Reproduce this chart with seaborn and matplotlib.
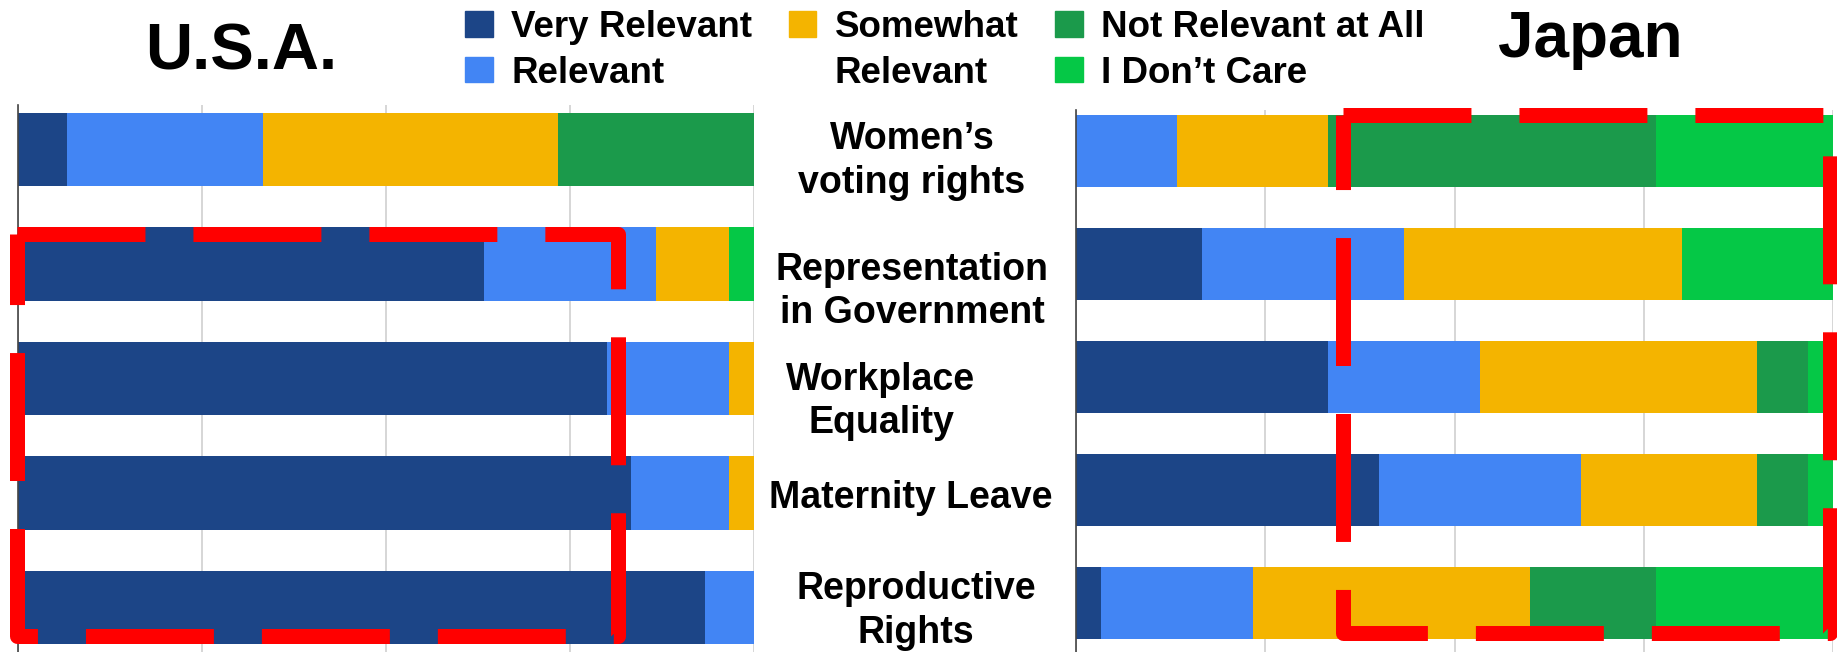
import matplotlib
matplotlib.use("Agg")
import matplotlib.pyplot as plt
import seaborn as sns
import pandas as pd
from matplotlib.patches import Patch, Rectangle
from matplotlib.transforms import blended_transform_factory

# topics (rows, top to bottom) and answer levels
topic_keys = ["voting", "representation", "workplace", "maternity", "reproductive"]
topic_labels = ["Women’s\nvoting rights", "Representation\nin Government",
                "Workplace\nEquality", "Maternity Leave", "Reproductive\nRights"]
levels = ["Very Relevant", "Relevant", "Somewhat Relevant",
          "Not Relevant at All", "I Don’t Care"]
level_colors = ["#1c4587", "#4285f4", "#f4b400", "#1b9a4b", "#05c846"]

# share of answers in %
usa_very_relevant = [6.67, 63.33, 80.0, 83.33, 93.33]
usa_relevant = [26.67, 23.33, 16.67, 13.33, 6.67]
usa_somewhat = [40.0, 10.0, 3.33, 3.33, 0.0]
usa_not_relevant = [26.67, 0.0, 0.0, 0.0, 0.0]
usa_dont_care = [0.0, 3.33, 0.0, 0.0, 0.0]

japan_very_relevant = [0.0, 16.67, 33.33, 40.0, 3.33]
japan_relevant = [13.33, 26.67, 20.0, 26.67, 20.0]
japan_somewhat = [20.0, 36.67, 36.67, 23.33, 36.67]
japan_not_relevant = [43.33, 0.0, 6.67, 6.67, 16.67]
japan_dont_care = [23.33, 20.0, 3.33, 3.33, 23.33]

# red dashed highlight boxes, in data units (x %, y row index)
usa_box = (-0.1, 0.742, 81.6, 3.503)
japan_box = (35.27, -0.323, 64.33, 4.588)

sns.set_style("white")
plt.rcParams["font.family"] = ["Liberation Sans", "DejaVu Sans"]
plt.rcParams["text.color"] = "black"

W, H = 1837, 652
fig = plt.figure(figsize=(W / 100, H / 100), dpi=100)
ax_usa = fig.add_axes([18 / W, 0, 736 / W, 547 / H])
ax_jp = fig.add_axes([1076 / W, 0, 757 / W, 542 / H])


def stacked_bars(ax, shares, ylim):
    df = pd.DataFrame(dict(zip(levels, shares)), index=topic_keys)
    cum = df.cumsum(axis=1)
    # draw the running totals back to front so each segment shows
    for level, color in reversed(list(zip(levels, level_colors))):
        sns.barplot(x=cum[level].values, y=topic_keys, order=topic_keys,
                    color=color, orient="h", width=0.64, saturation=1,
                    linewidth=0, errorbar=None, ax=ax)
    ax.set_xlim(0, 100)
    ax.set_ylim(*ylim)
    ax.set_xticks([0, 25, 50, 75, 100])
    ax.set_xticklabels([])
    ax.set_yticks([])
    ax.set_xlabel("")
    ax.set_ylabel("")
    ax.tick_params(length=0)
    ax.grid(axis="x", color="#cccccc", lw=1.1)
    ax.set_axisbelow(True)
    for s in ["top", "right", "bottom"]:
        ax.spines[s].set_visible(False)
    ax.spines["left"].set_color("#444444")
    ax.spines["left"].set_linewidth(1.2)


stacked_bars(ax_usa, [usa_very_relevant, usa_relevant, usa_somewhat,
                      usa_not_relevant, usa_dont_care], (4.389, -0.389))
stacked_bars(ax_jp, [japan_very_relevant, japan_relevant, japan_somewhat,
                     japan_not_relevant, japan_dont_care], (4.434, -0.363))

for ax, box in [(ax_usa, usa_box), (ax_jp, japan_box)]:
    rect = Rectangle(box[:2], box[2], box[3], fill=False, edgecolor="#ff0000",
                     linewidth=10.8, linestyle=(0, (8.53, 3.2)),
                     joinstyle="round", clip_on=False, zorder=5)
    ax.add_patch(rect)

# category labels in the gap between the panels
label_x = [912, 912, 881, 911, 916]
label_dy = [0.1, 0.24, 0.2, 0.04, 0.03]
trans = blended_transform_factory(fig.transFigure, ax_usa.transData)
for i, lab in enumerate(topic_labels):
    fig.text(label_x[i] / W, i + label_dy[i], lab, transform=trans,
             ha="center", va="center", fontsize=27, fontweight="bold",
             linespacing=1.27)

# panel titles
fig.text(241 / W, 1 - 69 / H, "U.S.A.", ha="center", va="baseline",
         fontsize=47, fontweight="bold")
fig.text(1590 / W, 1 - 57 / H, "Japan", ha="center", va="baseline",
         fontsize=46, fontweight="bold")

# legend: 3 columns x 2 rows, "Somewhat Relevant" wraps onto the 2nd row
handles = [Patch(color=level_colors[0]), Patch(color=level_colors[1]),
           Patch(color=level_colors[2]), Patch(facecolor="none", edgecolor="none"),
           Patch(color=level_colors[3]), Patch(color=level_colors[4])]
labels = ["Very Relevant", "Relevant", "Somewhat", "Relevant",
          "Not Relevant at All", "I Don’t Care"]
fig.legend(handles, labels, ncol=3, loc="upper left",
           bbox_to_anchor=(465 / W, 1 - 10 / H), frameon=False, borderpad=0,
           borderaxespad=0, handlelength=0.75, handleheight=0.68,
           handletextpad=0.5, columnspacing=1.0, labelspacing=0.29,
           prop={"weight": "bold", "size": 26.5})

fig.savefig("out.png", dpi=100)
